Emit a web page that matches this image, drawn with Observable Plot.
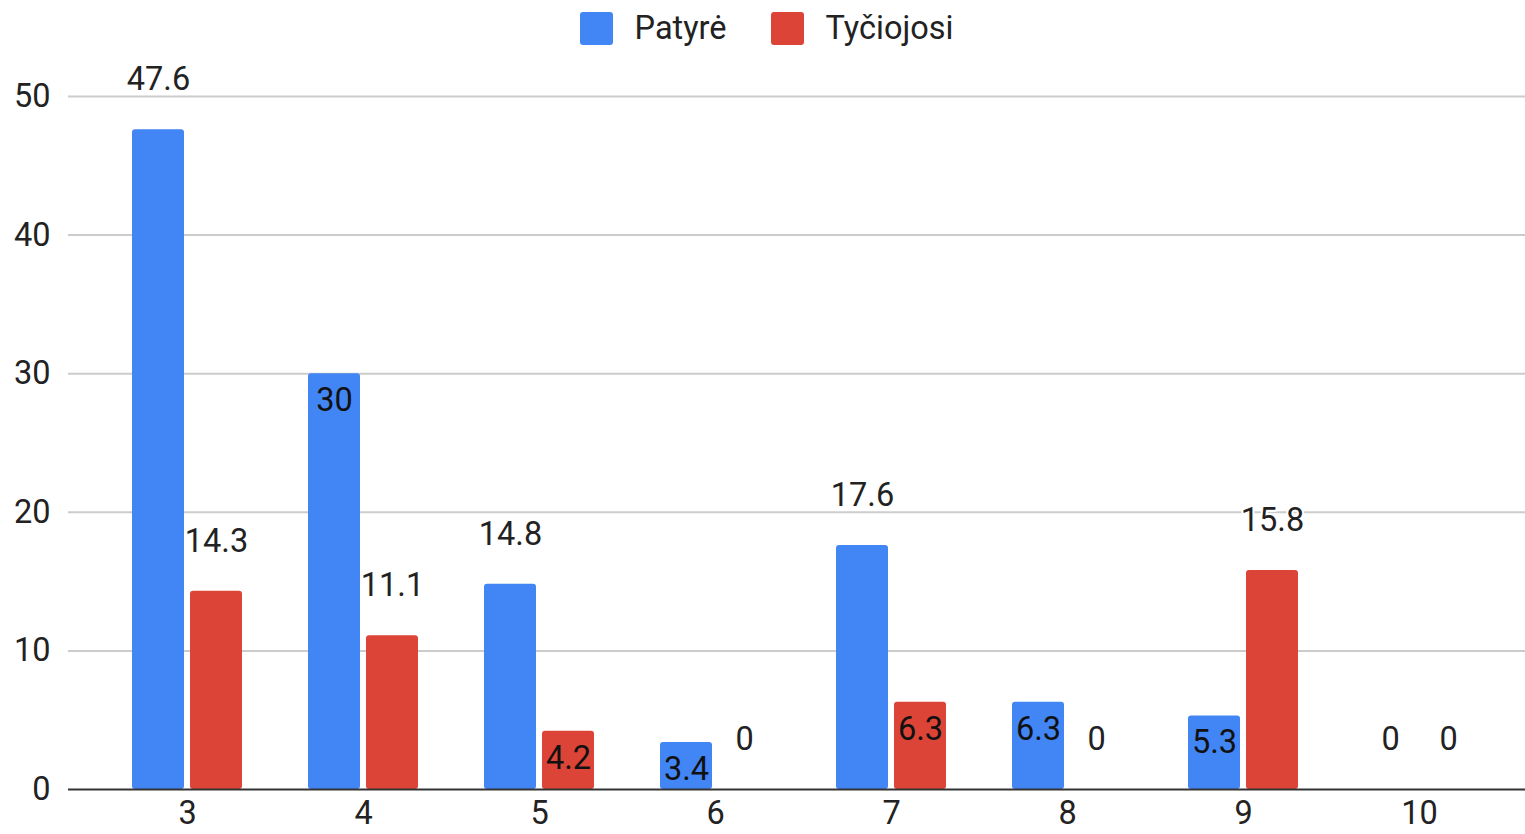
<!DOCTYPE html>
<html>
<head>
<meta charset="utf-8">
<script src="https://cdn.jsdelivr.net/npm/d3@7"></script>
<script src="https://cdn.jsdelivr.net/npm/@observablehq/plot@0.6"></script>
<style>
  html, body { margin: 0; padding: 0; background: #fff; }
  body { width: 1525px; font-family: Roboto, "Noto Sans", sans-serif; }
  #legend { height: 56px; display: flex; justify-content: center; align-items: center; gap: 44px; font-size: 32.5px; color: #222; padding-left: 8px; box-sizing: border-box; }
  .item { display: flex; align-items: center; gap: 22px; }
  .sw { width: 33px; height: 33px; border-radius: 3px; }
  svg { display: block; }
</style>
</head>
<body>
<div id="legend"></div>
<div id="chart"></div>
<script>
const categories = ["3", "4", "5", "6", "7", "8", "9", "10"];
const seriesNames = ["Patyrė", "Tyčiojosi"];
const seriesColors = ["#4285F4", "#DB4437"];
const patyre = [47.6, 30, 14.8, 3.4, 17.6, 6.3, 5.3, 0];
const tyciojosi = [14.3, 11.1, 4.2, 0, 6.3, 0, 15.8, 0];
// whether the value label sits inside the bar (as in the reference)
const patyreLabelInside = [false, true, false, true, false, true, true, false];
const tyciojosiLabelInside = [false, false, true, false, true, false, false, false];
const yTicks = [0, 10, 20, 30, 40, 50];

const FS = 32.5;
const legend = document.getElementById("legend");
seriesNames.forEach((n, i) => {
  const it = document.createElement("div");
  it.className = "item";
  it.innerHTML = `<div class="sw" style="background:${seriesColors[i]}"></div><span>${n}</span>`;
  legend.appendChild(it);
});

const rows = [];
categories.forEach((c, i) => {
  rows.push({cat: c, series: seriesNames[0], value: patyre[i], inside: patyreLabelInside[i]});
  rows.push({cat: c, series: seriesNames[1], value: tyciojosi[i], inside: tyciojosiLabelInside[i]});
});
const blue = rows.filter(d => d.series === seriesNames[0]);
const red = rows.filter(d => d.series === seriesNames[1]);
const off = 29;
const labelOpts = (data, dx) => [
  Plot.text(data.filter(d => !d.inside), {x: "cat", y: "value", text: d => String(d.value), dx, dy: -50,
    fill: "#222", stroke: "white", strokeWidth: 4, fontSize: FS}),
  Plot.text(data.filter(d => d.inside), {x: "cat", y: "value", text: d => String(d.value), dx, dy: 27,
    fill: "#111", fontSize: FS})
];

const chart = Plot.plot({
  width: 1525,
  height: 778,
  marginTop: 40,
  marginBottom: 45,
  marginLeft: 68,
  marginRight: 0,
  style: {fontFamily: "Roboto, sans-serif", fontSize: FS + "px", color: "#222", background: "white"},
  x: {type: "band", domain: categories, range: [98, 1508], padding: 0, label: null},
  y: {domain: [0, 50], label: null},
  marks: [
    Plot.ruleY(yTicks.filter(t => t > 0), {stroke: "#ccc", strokeWidth: 2}),
    Plot.barY(blue, {x: "cat", y: "value", fill: seriesColors[0], insetLeft: 62, insetRight: 62, dx: -off, rx: 3}),
    Plot.barY(red, {x: "cat", y: "value", fill: seriesColors[1], insetLeft: 62, insetRight: 62, dx: off, rx: 3}),
    Plot.ruleY([0], {stroke: "#333", strokeWidth: 2}),
    ...labelOpts(blue, -off),
    ...labelOpts(red, off),
    Plot.axisY({ticks: yTicks, tickSize: 0, tickPadding: 18, fontSize: FS, label: null}),
    Plot.axisX({tickSize: 0, tickPadding: 11, fontSize: FS, label: null})
  ]
});
document.getElementById("chart").appendChild(chart);
</script>
</body>
</html>
